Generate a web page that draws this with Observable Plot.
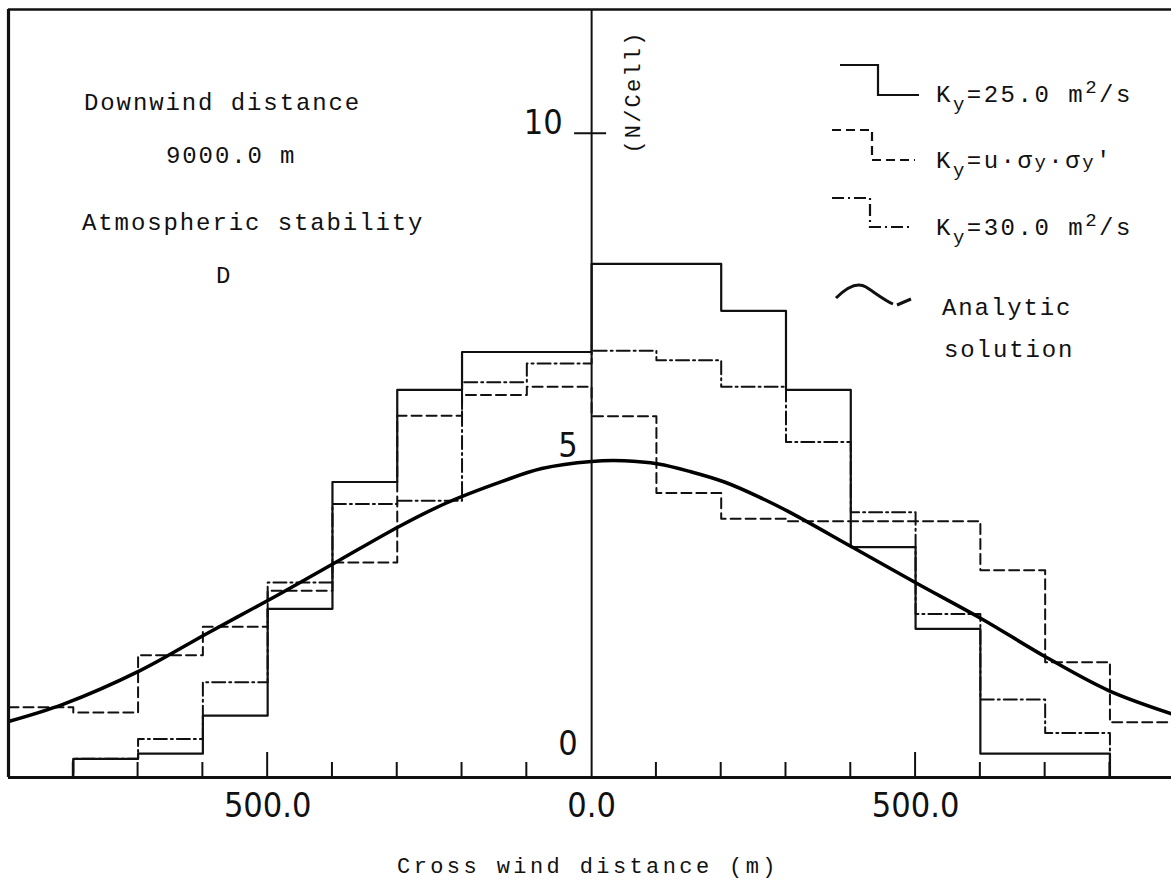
<!DOCTYPE html>
<html>
<head>
<meta charset="utf-8">
<script src="https://cdn.jsdelivr.net/npm/d3@7"></script>
<script src="https://cdn.jsdelivr.net/npm/@observablehq/plot@0.6"></script>
<style>
  body { margin: 0; background: #fff; }
  #chart svg { display: block; }
</style>
</head>
<body>
<div id="chart"></div>
<script>
// ---------------- data ----------------
// left edges of the 100 m cells, cross wind distance (m)
const cellLeft = [-900, -800, -700, -600, -500, -400, -300, -200, -100, 0, 100, 200, 300, 400, 500, 600, 700, 800];
const cellWidth = 100;
// N/Cell, Ky = 25.0 m2/s (solid)
const ky25 = [0, 0.29, 0.37, 0.96, 2.62, 4.59, 6.02, 6.61, 6.61, 7.98, 7.98, 7.25, 6.02, 3.58, 2.31, 0.37, 0.37, 0];
// N/Cell, Ky = u·σy·σy' (dashed)
const kyUss = [1.09, 1.01, 1.90, 2.34, 2.90, 3.34, 5.62, 5.94, 6.07, 5.61, 4.42, 4.02, 3.98, 3.98, 3.98, 3.22, 1.79, 0.86];
// N/Cell, Ky = 30.0 m2/s (dash-dot)
const ky30 = [0, 0.29, 0.60, 1.48, 3.03, 4.25, 4.30, 6.14, 6.43, 6.63, 6.48, 6.07, 5.21, 4.12, 2.54, 1.21, 0.69, 0];
// analytic solution, points
const analyticX = [-900, -815, -697, -595, -487, -392, -297, -225, -138, -77, 0, 50, 103, 153, 205, 258, 304, 402, 503, 601, 703, 798, 895];
const analyticY = [0.87, 1.14, 1.66, 2.23, 2.82, 3.36, 3.90, 4.26, 4.60, 4.80, 4.91, 4.92, 4.87, 4.75, 4.59, 4.36, 4.13, 3.58, 3.01, 2.47, 1.86, 1.35, 0.99];

const xDomain = [-900, 895];
const yDomain = [0, 11.93];
const xMinorTicks = [-800, -700, -600, -400, -300, -200, -100, 100, 200, 300, 400, 600, 700, 800];
const xMajorTicks = [-500, 500];
const xLabelValues = [-500, 0, 500];
const xLabelTexts = ["500.0", "0.0", "500.0"];
const yLabelValues = [0, 5, 10];
const yLabelTexts = ["0", "5", "10"];
const yTickValues = [10];
const xTitle = "Cross wind distance (m)";
const yTitle = "(N/Cell)";
const notes = ["Downwind distance", "9000.0 m", "Atmospheric stability", "D"];

// ---------------- helpers ----------------
function stepPoints(vals) {
  const pts = cellLeft.map((x, i) => ({x, y: vals[i]}));
  pts.push({x: cellLeft[cellLeft.length - 1] + cellWidth, y: vals[vals.length - 1]});
  return pts;
}
const analytic = analyticX.map((x, i) => ({x, y: analyticY[i]}));

const MONO = "'Liberation Mono', 'DejaVu Sans Mono', monospace";
const NARROW = "'Liberation Sans Narrow', 'Arial Narrow', 'DejaVu Sans Condensed', 'DejaVu Sans', sans-serif";
const INK = "#111";

// ticks drawn with the plot's own scales
function tickMarks(index, {x, y}) {
  const g = d3.create("svg:g").attr("stroke", INK).attr("stroke-width", 2).attr("fill", "none");
  const y0 = y(0);
  for (const v of xMinorTicks) g.append("line").attr("x1", x(v)).attr("x2", x(v)).attr("y1", y0).attr("y2", y0 - 15);
  for (const v of xMajorTicks) g.append("line").attr("x1", x(v)).attr("x2", x(v)).attr("y1", y0).attr("y2", y0 - 25);
  for (const v of yTickValues) g.append("line").attr("x1", x(0) - 17).attr("x2", x(0) + 15).attr("y1", y(v)).attr("y2", y(v));
  return g.node();
}

function addText(g, x, y, parts, opts = {}) {
  const t = g.append("text").attr("x", x).attr("y", y)
    .attr("font-family", MONO).attr("font-size", opts.size || 24)
    .attr("letter-spacing", opts.spacing != null ? opts.spacing : 1.9)
    .attr("text-anchor", opts.anchor || "start")
    .attr("fill", INK);
  if (opts.transform) t.attr("transform", opts.transform);
  for (const p of parts) {
    const s = t.append("tspan").text(p.t);
    if (p.dy) s.attr("dy", p.dy);
    if (p.size) s.attr("font-size", p.size);
  }
  return t;
}

function annotations(index, {x, y}) {
  const g = d3.create("svg:g");
  // upper-left notes
  addText(g, 84, 110, [{t: notes[0]}]);
  addText(g, 166, 163, [{t: notes[1]}]);
  addText(g, 82, 230, [{t: notes[2]}]);
  addText(g, 216, 283, [{t: notes[3]}]);
  // y title
  addText(g, 640, 92, [{t: yTitle}], {size: 22, spacing: 2.2, anchor: "middle", transform: "rotate(-90 640 92)"});
  // x title
  addText(g, 588, 873, [{t: xTitle}], {size: 22, spacing: 3.4, anchor: "middle"});

  // legend samples
  const L = g.append("g").attr("fill", "none").attr("stroke", INK).attr("stroke-width", 2.2);
  L.append("path").attr("d", "M840,65 H878 V95 H919");
  L.append("path").attr("d", "M832,130 H872 V160 H915").attr("stroke-dasharray", "9,5");
  L.append("path").attr("d", "M832,198 H870 V227 H912").attr("stroke-dasharray", "12,4,2,4");
  L.append("path").attr("d", "M836,298 C848,286 858,282 866,287 C874,292 884,300 893,304").attr("stroke-width", 3);
  L.append("path").attr("d", "M897,305 L911,299").attr("stroke-width", 3);

  // legend labels
  addText(g, 936, 102, [{t: "K"}, {t: "y", dy: 8, size: 19}, {t: "=25.0 m", dy: -8}, {t: "2", dy: -9, size: 19}, {t: "/s", dy: 9}], {spacing: 2.5});
  addText(g, 936, 168, [{t: "K"}, {t: "y", dy: 8, size: 19}, {t: "=u·σ", dy: -8}, {t: "y", size: 19}, {t: "·σ"}, {t: "y", size: 19}, {t: "′"}], {spacing: 2.5});
  addText(g, 936, 235, [{t: "K"}, {t: "y", dy: 8, size: 19}, {t: "=30.0 m", dy: -8}, {t: "2", dy: -9, size: 19}, {t: "/s", dy: 9}], {spacing: 2.5});
  addText(g, 942, 315, [{t: "Analytic"}]);
  addText(g, 944, 357, [{t: "solution"}]);
  return g.node();
}

const yLab = yLabelValues.map((v, i) => ({v, t: yLabelTexts[i]}));
const xLab = xLabelValues.map((v, i) => ({v, t: xLabelTexts[i]}));

const chart = Plot.plot({
  width: 1171,
  height: 886,
  marginTop: 9,
  marginBottom: 109,
  marginLeft: 8,
  marginRight: 0,
  style: {background: "#fff", overflow: "visible"},
  x: {domain: xDomain, axis: null},
  y: {domain: yDomain, axis: null},
  marks: [
    // histograms
    Plot.line(stepPoints(ky25), {x: "x", y: "y", curve: "step-after", stroke: INK, strokeWidth: 2.2, clip: true}),
    Plot.line(stepPoints(kyUss), {x: "x", y: "y", curve: "step-after", stroke: INK, strokeWidth: 2, strokeDasharray: "10,5", clip: true}),
    Plot.line(stepPoints(ky30), {x: "x", y: "y", curve: "step-after", stroke: INK, strokeWidth: 2, strokeDasharray: "13,4,2,4", clip: true}),
    // analytic solution
    Plot.line(analytic, {x: "x", y: "y", curve: "catmull-rom", stroke: "#000", strokeWidth: 3.5, clip: true}),
    // frame and axes
    Plot.ruleY([yDomain[0]], {stroke: INK, strokeWidth: 3.2}),
    Plot.ruleY([yDomain[1]], {stroke: INK, strokeWidth: 2.6}),
    Plot.ruleX([xDomain[0]], {stroke: INK, strokeWidth: 3.2}),
    Plot.ruleX([0], {stroke: INK, strokeWidth: 2}),
    tickMarks,
    // tick labels
    Plot.text(xLab, {x: "v", y: () => 0, text: "t", dy: 29, fontFamily: NARROW, fontSize: 34, fill: INK, lineAnchor: "middle"}),
    Plot.text(yLab.filter(d => d.v === 10), {x: () => 0, y: "v", text: "t", dx: -29, dy: -11, textAnchor: "end", fontFamily: NARROW, fontSize: 34, fill: INK}),
    Plot.text(yLab.filter(d => d.v === 5), {x: () => 0, y: "v", text: "t", dx: -14, dy: -10, textAnchor: "end", fontFamily: NARROW, fontSize: 34, fill: INK}),
    Plot.text(yLab.filter(d => d.v === 0), {x: () => 0, y: "v", text: "t", dx: -14, dy: -33, textAnchor: "end", fontFamily: NARROW, fontSize: 34, fill: INK}),
    annotations
  ]
});
document.getElementById("chart").append(chart);
</script>
</body>
</html>
